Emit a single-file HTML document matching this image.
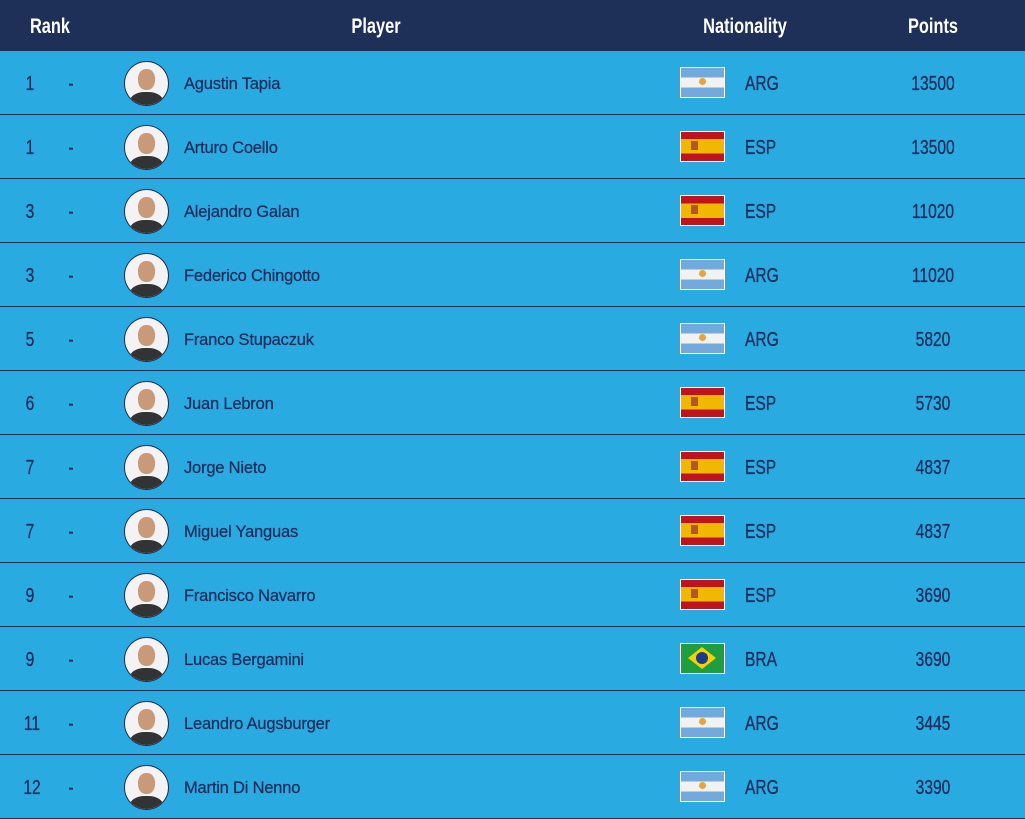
<!DOCTYPE html>
<html><head><meta charset="utf-8"><style>
*{margin:0;padding:0;box-sizing:border-box}
body{width:1025px;height:819px;background:#29aae1;font-family:"Liberation Sans",sans-serif;overflow:hidden;position:relative}
.hdr{position:absolute;left:0;top:0;width:1025px;height:51px;background:#1e2f58;color:#fff;font-weight:bold;font-size:21px}
.hdr span,.c{position:absolute;transform:translateX(-50%) scaleX(0.78);white-space:nowrap}
.hdr span{top:15px}
.row{position:absolute;left:0;width:1025px;height:64px;border-bottom:1px solid #1f3358;color:#1a2d5c}
.c{top:22px;font-size:20px;-webkit-text-stroke:0.3px #1a2d5c}
.cl{position:absolute;left:745px;top:22px;font-size:20px;transform:scaleX(0.78);transform-origin:0 0;-webkit-text-stroke:0.3px #1a2d5c}
.nm{position:absolute;left:184px;top:24px;font-size:16.5px;letter-spacing:-0.2px;-webkit-text-stroke:0.25px #1a2d5c}
.av{position:absolute;left:124px;top:10px;width:45px;height:45px;border-radius:50%;background:#f3f3f3;border:1.5px solid #1e2f58;overflow:hidden}
.av::before{content:"";position:absolute;left:13px;top:7px;width:17px;height:21px;border-radius:45%;background:#c99a7a}
.av::after{content:"";position:absolute;left:5px;top:30px;width:33px;height:20px;border-radius:45% 45% 0 0;background:#333}
.fl{position:absolute;left:680px;top:16px;width:45px;height:31px;border:1.5px solid #fff}
.arg{background:linear-gradient(#74a9db 0 33%,#f2f2f2 33% 67%,#74a9db 67%)}
.arg::after{content:"";position:absolute;left:18px;top:10px;width:7px;height:7px;border-radius:50%;background:#e4a634}
.esp{background:linear-gradient(#c0141c 0 25%,#f0b800 25% 75%,#c0141c 75%)}
.esp::after{content:"";position:absolute;left:10px;top:9px;width:7px;height:9px;background:#b5532a}
.bra{background:#1f9d41}
.bra::before{content:"";position:absolute;left:7px;top:3px;width:28px;height:22px;background:#f5d100;clip-path:polygon(50% 0,100% 50%,50% 100%,0 50%)}
.bra::after{content:"";position:absolute;left:15px;top:8px;width:12px;height:12px;border-radius:50%;background:#1c3b8c}
</style></head><body>
<div class="hdr"><span style="left:50px">Rank</span><span style="left:376px">Player</span><span style="left:745px">Nationality</span><span style="left:933px">Points</span></div>
<div id="rows"></div>
<script>
var d=[["1","Agustin Tapia","arg","ARG","13500"],["1","Arturo Coello","esp","ESP","13500"],["3","Alejandro Galan","esp","ESP","11020"],["3","Federico Chingotto","arg","ARG","11020"],["5","Franco Stupaczuk","arg","ARG","5820"],["6","Juan Lebron","esp","ESP","5730"],["7","Jorge Nieto","esp","ESP","4837"],["7","Miguel Yanguas","esp","ESP","4837"],["9","Francisco Navarro","esp","ESP","3690"],["9","Lucas Bergamini","bra","BRA","3690"],["11","Leandro Augsburger","arg","ARG","3445"],["12","Martin Di Nenno","arg","ARG","3390"]];
var h="";d.forEach(function(r,i){h+='<div class="row" style="top:'+(51+i*64)+'px"><span class="c" style="left:'+(r[0].length>1?32:30)+'px">'+r[0]+'</span><span class="c" style="left:71px">-</span><div class="av"></div><span class="nm">'+r[1]+'</span><div class="fl '+r[2]+'"></div><span class="cl">'+r[3]+'</span><span class="c" style="left:933px">'+r[4]+'</span></div>';});
document.getElementById("rows").innerHTML=h;
</script>
</body></html>
